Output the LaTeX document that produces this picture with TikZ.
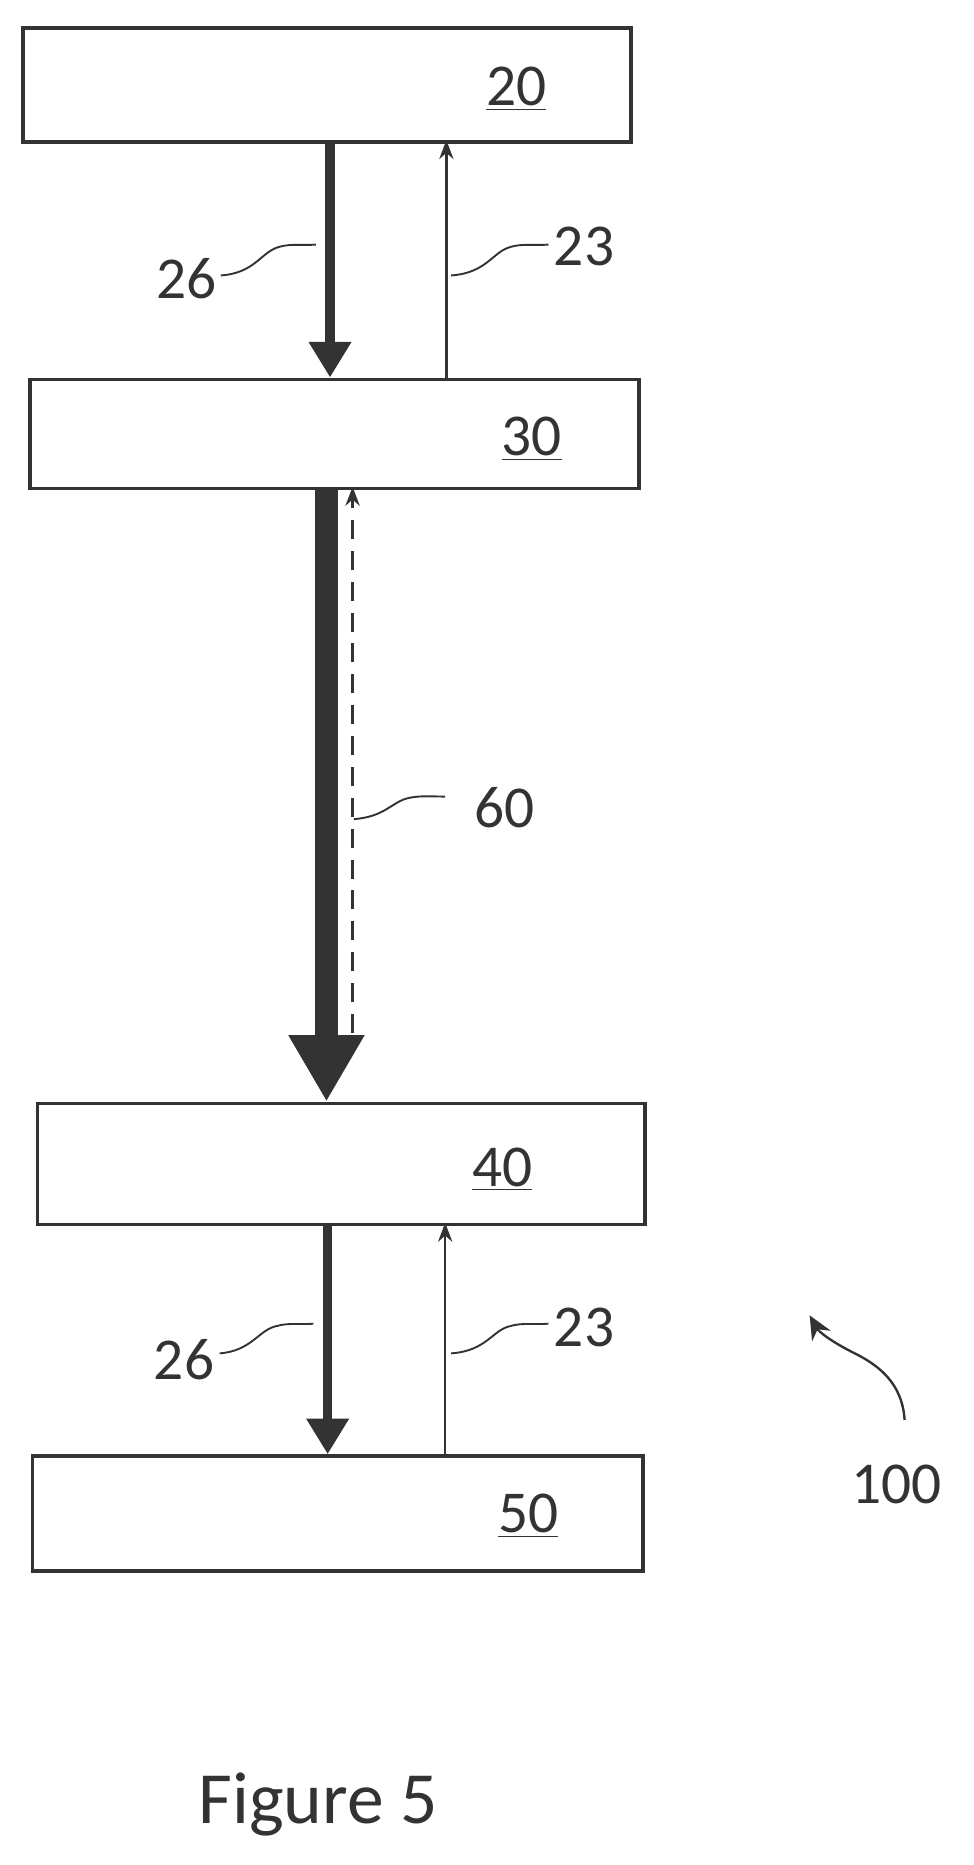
\documentclass[tikz,border=0pt]{standalone}
\usepackage{fontspec}
\setmainfont{Carlito}
\usetikzlibrary{arrows.meta,decorations.pathmorphing}
\definecolor{ink}{HTML}{333333}
\begin{document}
\begin{tikzpicture}[x=0.5pt,y=-0.5pt,
  blk/.style={draw=ink,line width=1.5pt,minimum width=256pt,minimum height=48pt,anchor=north west,inner sep=0},
  num/.style={font=\fontsize{25}{27}\selectfont,text=ink},
  thick26/.style={ink,line width=4pt,-{Triangle[width=17pt,length=15pt]}},
  thin23/.style={ink,line width=1pt,-{Stealth[width=6pt,length=8pt]}},
  lead/.style={ink,line width=0.8pt}]
\useasboundingbox (0,0) rectangle (820,1571);
\node[blk] (b20) at (18,22) {};
\node[blk,minimum width=256.5pt,minimum height=46pt] (b30) at (24,318) {};
\node[blk,minimum height=51pt] (b40) at (30,928) {};
\node[blk,minimum width=257pt,minimum height=48.5pt] (b50) at (26,1225) {};
\node[num] (t20) at (435,75) {\underline{20}};
\node[num] (t30) at (448,370) {\underline{30}};
\node[num] (t40) at (423,985) {\underline{40}};
\node[num] (t50) at (445,1277) {\underline{50}};
% top arrows
\coordinate (a1s) at (278,118); \coordinate (a1e) at (278,318);
\draw[thick26] (a1s) -- (a1e);
\coordinate (a2s) at (376,318); \coordinate (a2e) at (376,118);
\draw[thin23] (a2s) -- (a2e);
% middle
\coordinate (m1s) at (275,410); \coordinate (m1e) at (275,928);
\draw[ink,line width=10pt,-{Triangle[width=30pt,length=28pt]}] (m1s) -- (m1e);
\coordinate (m2s) at (297,870); \coordinate (m2e) at (297,410);
\draw[ink,line width=1.2pt,dash pattern=on 8pt off 5pt,-{Stealth[width=6pt,length=8pt]}] (m2s) -- (m2e);
% bottom arrows
\coordinate (c1s) at (276,1030); \coordinate (c1e) at (276,1225);
\draw[thick26] (c1s) -- (c1e);
\coordinate (c2s) at (375,1225); \coordinate (c2e) at (375,1030);
\draw[thin23] (c2s) -- (c2e);
% labels
\node[num] (l26a) at (157,235) {26};
\node[num] (l23a) at (492,208) {23};
\node[num] (l60) at (425,680) {60};
\node[num] (l26b) at (155,1145) {26};
\node[num] (l23b) at (492,1118) {23};
\node[num] (l100) at (755,1250) {100};
\node[font=\fontsize{31}{33}\selectfont,text=ink] (fig) at (268,1520) {Figure 5};
% leaders
\draw[lead] (186,232) .. controls (215,230) and (220,212) .. (235,208) .. controls (245,205) and (255,207) .. (266,206);
\draw[lead] (380,232) .. controls (410,230) and (415,212) .. (430,208) .. controls (440,205) and (450,207) .. (462,206);
\draw[lead] (298,690) .. controls (325,688) and (330,675) .. (345,672) .. controls (355,670) and (365,671) .. (375,671);
\draw[lead] (185,1140) .. controls (212,1138) and (218,1120) .. (233,1117) .. controls (243,1114) and (253,1116) .. (264,1115);
\draw[lead] (380,1140) .. controls (410,1138) and (415,1120) .. (430,1117) .. controls (440,1114) and (450,1116) .. (462,1115);
\coordinate (h1) at (762,1196); \coordinate (h2) at (682,1108);
\draw[ink,line width=1pt,-{Stealth[width=9pt,length=10pt]}] (h1) .. controls (760,1165) and (740,1150) .. (720,1140) .. controls (700,1130) and (690,1122) .. (h2);
\end{tikzpicture}
\end{document}
